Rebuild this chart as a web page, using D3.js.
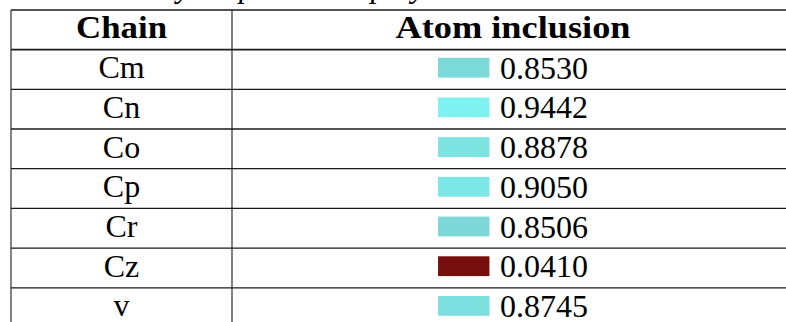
<!DOCTYPE html>
<html>
<head>
<meta charset="utf-8">
<script src="https://cdn.jsdelivr.net/npm/d3@7"></script>
<style>
  html, body { margin: 0; padding: 0; background: #fff; overflow: hidden; }
  svg { display: block; }
</style>
</head>
<body>
<div id="chart"></div>
<script>
// ---- data ----
const headers = ["Chain", "Atom inclusion"];
const chains = ["Cm", "Cn", "Co", "Cp", "Cr", "Cz", "v"];
const inclusion = [0.8530, 0.9442, 0.8878, 0.9050, 0.8506, 0.0410, 0.8745];
const caption = "Summary on per-chain play";

(function () {
// ---- layout ----
const W = 786, H = 322;
const xLeft = 11, xMid = 232, xRight = 794;
const yTop = 10, headerBottom = 49.6, rowH = 39.7;

const svg = d3.select("#chart").append("svg")
  .attr("width", W).attr("height", H);

const serif = "'Liberation Serif', 'Times New Roman', serif";

const y = d3.scaleBand()
  .domain(chains)
  .range([headerBottom, headerBottom + rowH * chains.length])
  .padding(0);

const x = d3.scaleOrdinal()
  .domain(headers)
  .range([(xLeft + xMid) / 2, (xMid + xRight) / 2]);

const color = d3.scaleLinear()
  .domain([0, 0.5, 0.85, 0.95])
  .range(["#780707", "#7c6d6d", "#7cd8d8", "#7ef3f3"])
  .clamp(true);

// caption (cut off at top, as in the reference)
svg.append("text")
  .attr("x", 70).attr("y", -3.5)
  .attr("font-family", serif).attr("font-style", "italic")
  .attr("font-size", 32).attr("fill", "#000")
  .text(caption);

// header
svg.selectAll("text.hdr").data(headers).join("text")
  .attr("class", "hdr")
  .attr("x", d => x(d)).attr("y", 37.5)
  .attr("text-anchor", "middle")
  .attr("font-family", serif).attr("font-weight", "bold")
  .attr("font-size", 32)
  .attr("textLength", d => d === "Chain" ? 91 : 235)
  .attr("lengthAdjust", "spacingAndGlyphs")
  .attr("fill", "#000")
  .text(d => d);

// rows
const rows = svg.selectAll("g.row").data(chains).join("g")
  .attr("class", "row")
  .attr("transform", d => `translate(0,${y(d)})`);

rows.append("text")
  .attr("x", x(headers[0])).attr("y", 28.6)
  .attr("text-anchor", "middle")
  .attr("font-family", serif).attr("font-size", 32)
  .attr("fill", "#000")
  .text(d => d);

const swW = 51.4, swH = 19.8, gap = 10.5;
rows.each(function (d, i) {
  const g = d3.select(this);
  const t = g.append("text")
    .attr("y", 29.2)
    .attr("font-family", serif).attr("font-size", 32)
    .attr("fill", "#000")
    .text(d3.format(".4f")(inclusion[i]));
  const tw = t.node().getComputedTextLength();
  const total = swW + gap + tw;
  const x0 = x(headers[1]) - total / 2;
  g.insert("rect", "text")
    .attr("x", x0).attr("y", 8.2)
    .attr("width", swW).attr("height", swH)
    .attr("fill", color(inclusion[i]));
  t.attr("x", x0 + swW + gap);
});

// grid lines
const lineColor = "#1a1a1a";
svg.append("line")
  .attr("x1", xLeft).attr("x2", xRight).attr("y1", yTop).attr("y2", yTop)
  .attr("stroke", lineColor).attr("stroke-width", 1.6);
svg.append("line")
  .attr("x1", xLeft).attr("x2", xRight).attr("y1", headerBottom).attr("y2", headerBottom)
  .attr("stroke", lineColor).attr("stroke-width", 1.8);
svg.selectAll("line.rowline").data(chains.slice(1)).join("line")
  .attr("class", "rowline")
  .attr("x1", xLeft).attr("x2", xRight)
  .attr("y1", d => y(d)).attr("y2", d => y(d))
  .attr("stroke", lineColor).attr("stroke-width", 1.3);
[xLeft, xMid].forEach(xx => {
  svg.append("line")
    .attr("x1", xx).attr("x2", xx).attr("y1", yTop).attr("y2", H + 5)
    .attr("stroke", lineColor).attr("stroke-width", 1.1);
});
})();
</script>
</body>
</html>
